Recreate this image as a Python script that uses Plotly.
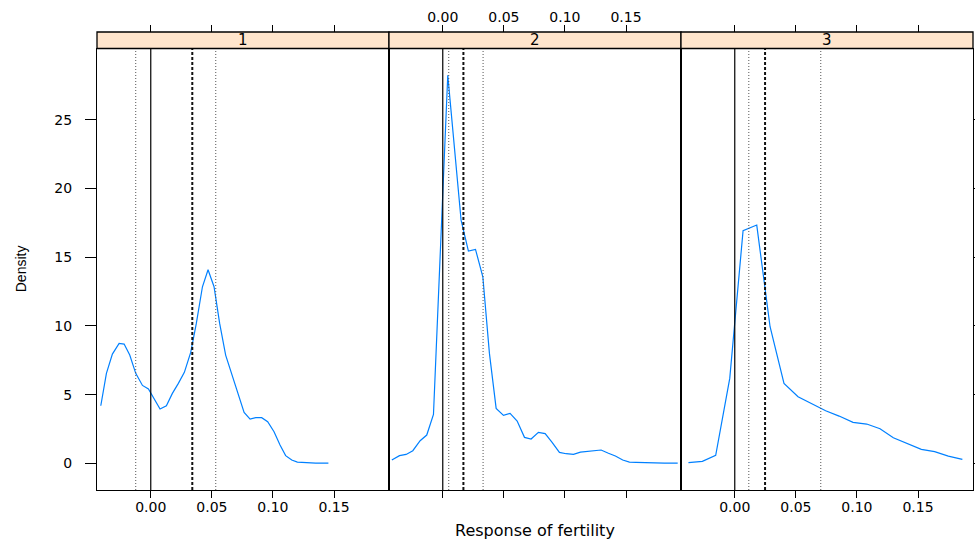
import plotly.graph_objects as go

# ---------------- data ----------------
panels = ["1", "2", "3"]

x1 = [-0.0409, -0.0363, -0.0314, -0.0259, -0.0218, -0.0172, -0.0123, -0.0068, -0.0019,
      0.0027, 0.0076, 0.0128, 0.0177, 0.0226, 0.0275, 0.0327, 0.0373, 0.0423, 0.0469,
      0.0518, 0.0564, 0.0613, 0.0663, 0.0714, 0.0764, 0.0813, 0.0859, 0.0908, 0.0957,
      0.1009, 0.1058, 0.1104, 0.1154, 0.1200, 0.1268, 0.1350, 0.1454]
d1 = [4.19, 6.55, 7.95, 8.73, 8.68, 7.88, 6.55, 5.67, 5.41,
      4.73, 3.95, 4.19, 5.09, 5.82, 6.62, 8.07, 10.18, 12.85, 14.09,
      12.85, 10.18, 7.88, 6.55, 5.09, 3.71, 3.22, 3.32, 3.32, 3.03,
      2.30, 1.33, 0.56, 0.24, 0.09, 0.05, 0.02, 0.02]

x2 = [-0.0417, -0.0354, -0.0300, -0.0245, -0.0185, -0.0131, -0.0076, -0.0019, 0.0041,
      0.0096, 0.0150, 0.0210, 0.0268, 0.0328, 0.0382, 0.0437, 0.0497, 0.0551, 0.0609,
      0.0669, 0.0723, 0.0783, 0.0838, 0.0895, 0.0955, 0.1010, 0.1070, 0.1127, 0.1187,
      0.1241, 0.1296, 0.1356, 0.1413, 0.1473, 0.1528, 0.1582, 0.1642, 0.1697, 0.1754,
      0.1814, 0.1869, 0.1923]
d2 = [0.24, 0.56, 0.65, 0.92, 1.65, 2.06, 3.56, 15.76, 28.25,
      22.92, 17.70, 15.45, 15.57, 13.58, 8.00, 4.00, 3.49, 3.64, 3.08,
      1.89, 1.77, 2.25, 2.16, 1.53, 0.80, 0.70, 0.65, 0.82, 0.89,
      0.92, 0.97, 0.73, 0.53, 0.24, 0.09, 0.07, 0.07, 0.02, 0.02,
      0.02, 0.01, 0.01]

x3 = [-0.0379, -0.0265, -0.0156, -0.0041, 0.0068, 0.0180, 0.0289, 0.0403, 0.0518,
      0.0630, 0.0744, 0.0854, 0.0968, 0.1080, 0.1189, 0.1298, 0.1413, 0.1527, 0.1636,
      0.1748, 0.1863]
d3 = [0.05, 0.14, 0.58, 6.18, 16.93, 17.34, 9.94, 5.82, 4.85,
      4.36, 3.83, 3.44, 2.98, 2.86, 2.52, 1.86, 1.43, 1.02, 0.85,
      0.53, 0.29]

xs = [x1, x2, x3]
ds = [d1, d2, d3]

zero_ref = 0.0
lower_q = [-0.0123, 0.0049, 0.0115]
median_q = [0.0340, 0.0169, 0.0248]
upper_q = [0.0532, 0.0330, 0.0704]

x_tickvals = [0.00, 0.05, 0.10, 0.15]
x_ticktext = ["0.00", "0.05", "0.10", "0.15"]
y_tickvals = [0, 5, 10, 15, 20, 25]
y_ticktext = ["0", "5", "10", "15", "20", "25"]

x_title = "Response of fertility"
y_title = "Density"

# ---------------- styling ----------------
XR = [-0.0440, 0.1950]
YR = [-1.94, 30.19]
W, H = 975, 540
ML, MR, MT, MB = 97, 2, 32, 50
plot_h = H - MT - MB
D = (plot_h - 16.5) / plot_h  # top of panels (strip above)
LINE_BLUE = "#0080ff"
STRIP = "#ffe5cc"
FW = 1.3
tick_font = dict(family="DejaVu Sans", size=14, color="black")

fig = go.Figure()

for i in range(3):
    n = i + 1
    xa = "x" if n == 1 else f"x{n}"
    ya = "y" if n == 1 else f"y{n}"
    fig.add_trace(go.Scatter(x=xs[i], y=ds[i], mode="lines",
                             line=dict(color=LINE_BLUE, width=1.2),
                             xaxis=xa, yaxis=ya, showlegend=False,
                             hoverinfo="skip"))
    # dummy trace for top (overlay) axis
    fig.add_trace(go.Scatter(x=[None], y=[None], mode="lines",
                             xaxis=f"x{n+3}", yaxis=ya, showlegend=False,
                             hoverinfo="skip"))

layout = dict(width=W, height=H, margin=dict(l=ML, r=MR, t=MT, b=MB, autoexpand=False),
              paper_bgcolor="white", plot_bgcolor="white", showlegend=False)

for i in range(3):
    n = i + 1
    sfx = "" if n == 1 else str(n)
    dom = [i / 3, (i + 1) / 3]
    layout[f"xaxis{sfx}"] = dict(
        domain=dom, range=XR, anchor=f"y{sfx}", showline=True, mirror=True,
        linecolor="black", linewidth=FW, ticks="outside", ticklen=7,
        tickcolor="black", tickwidth=1, tickvals=x_tickvals, ticktext=x_ticktext,
        showticklabels=(n != 2), tickfont=tick_font, showgrid=False,
        zeroline=False, fixedrange=True, ticklabelstandoff=-3, automargin=False)
    ycfg = dict(
        domain=[0, D], range=YR, anchor=f"x{sfx}", showline=True, mirror=True,
        linecolor="black", linewidth=FW, showgrid=False, zeroline=False,
        tickvals=y_tickvals, ticktext=y_ticktext, tickfont=tick_font,
        fixedrange=True, automargin=False)
    if n == 1:
        ycfg.update(ticks="outside", ticklen=11, tickcolor="black", side="left",
                    showticklabels=True, ticklabelstandoff=10)
    elif n == 2:
        ycfg.update(ticks="", showticklabels=False)
    else:
        ycfg.update(ticks="outside", ticklen=11, tickcolor="black", side="right",
                    showticklabels=False)
    layout[f"yaxis{sfx}"] = ycfg
    layout[f"xaxis{n+3}"] = dict(
        overlaying=f"x{sfx}", range=XR, side="top", anchor="free", position=1,
        showline=False, ticks="outside", ticklen=7, tickcolor="black",
        tickvals=x_tickvals, ticktext=x_ticktext, showticklabels=(n == 2),
        tickfont=tick_font, showgrid=False, zeroline=False, fixedrange=True,
        ticklabelstandoff=-3, automargin=False)

fig.update_layout(**layout)

shapes = []
annotations = []
for i in range(3):
    n = i + 1
    xa = "x" if n == 1 else f"x{n}"
    ydom = ("y" if n == 1 else f"y{n}") + " domain"
    shapes.append(dict(type="line", xref=xa, yref=ydom, x0=zero_ref, x1=zero_ref,
                       y0=0, y1=1, line=dict(color="black", width=1.2)))
    for v in (lower_q[i], upper_q[i]):
        shapes.append(dict(type="line", xref=xa, yref=ydom, x0=v, x1=v, y0=0, y1=1,
                           line=dict(color="#555555", width=1, dash="1px,2px")))
    shapes.append(dict(type="line", xref=xa, yref=ydom, x0=median_q[i], x1=median_q[i],
                       y0=0, y1=1, line=dict(color="#111111", width=2, dash="3px,2px")))
    shapes.append(dict(type="rect", xref="paper", yref="paper", x0=i / 3, x1=(i + 1) / 3,
                       y0=D, y1=1, fillcolor=STRIP,
                       line=dict(color="black", width=FW), layer="above"))
    annotations.append(dict(text=panels[i], xref="paper", yref="paper",
                            x=(i + 0.5) / 3, y=(D + 1) / 2, xanchor="center",
                            yanchor="middle", showarrow=False,
                            font=dict(family="DejaVu Sans", size=15, color="black")))

annotations.append(dict(text=x_title, xref="paper", yref="paper", x=0.5, y=0,
                        xanchor="center", yanchor="middle", yshift=-40,
                        showarrow=False,
                        font=dict(family="DejaVu Sans", size=16, color="black")))
annotations.append(dict(text=y_title, xref="paper", yref="paper", x=0, y=D / 2,
                        xanchor="center", yanchor="middle", xshift=-76, textangle=-90,
                        showarrow=False,
                        font=dict(family="Liberation Sans", size=14, color="black")))

fig.update_layout(shapes=shapes, annotations=annotations)
fig.write_html("out.html",
               config={"displayModeBar": False},
               post_script="document.body.style.margin='0';"
                           "document.body.style.overflow='hidden';")
